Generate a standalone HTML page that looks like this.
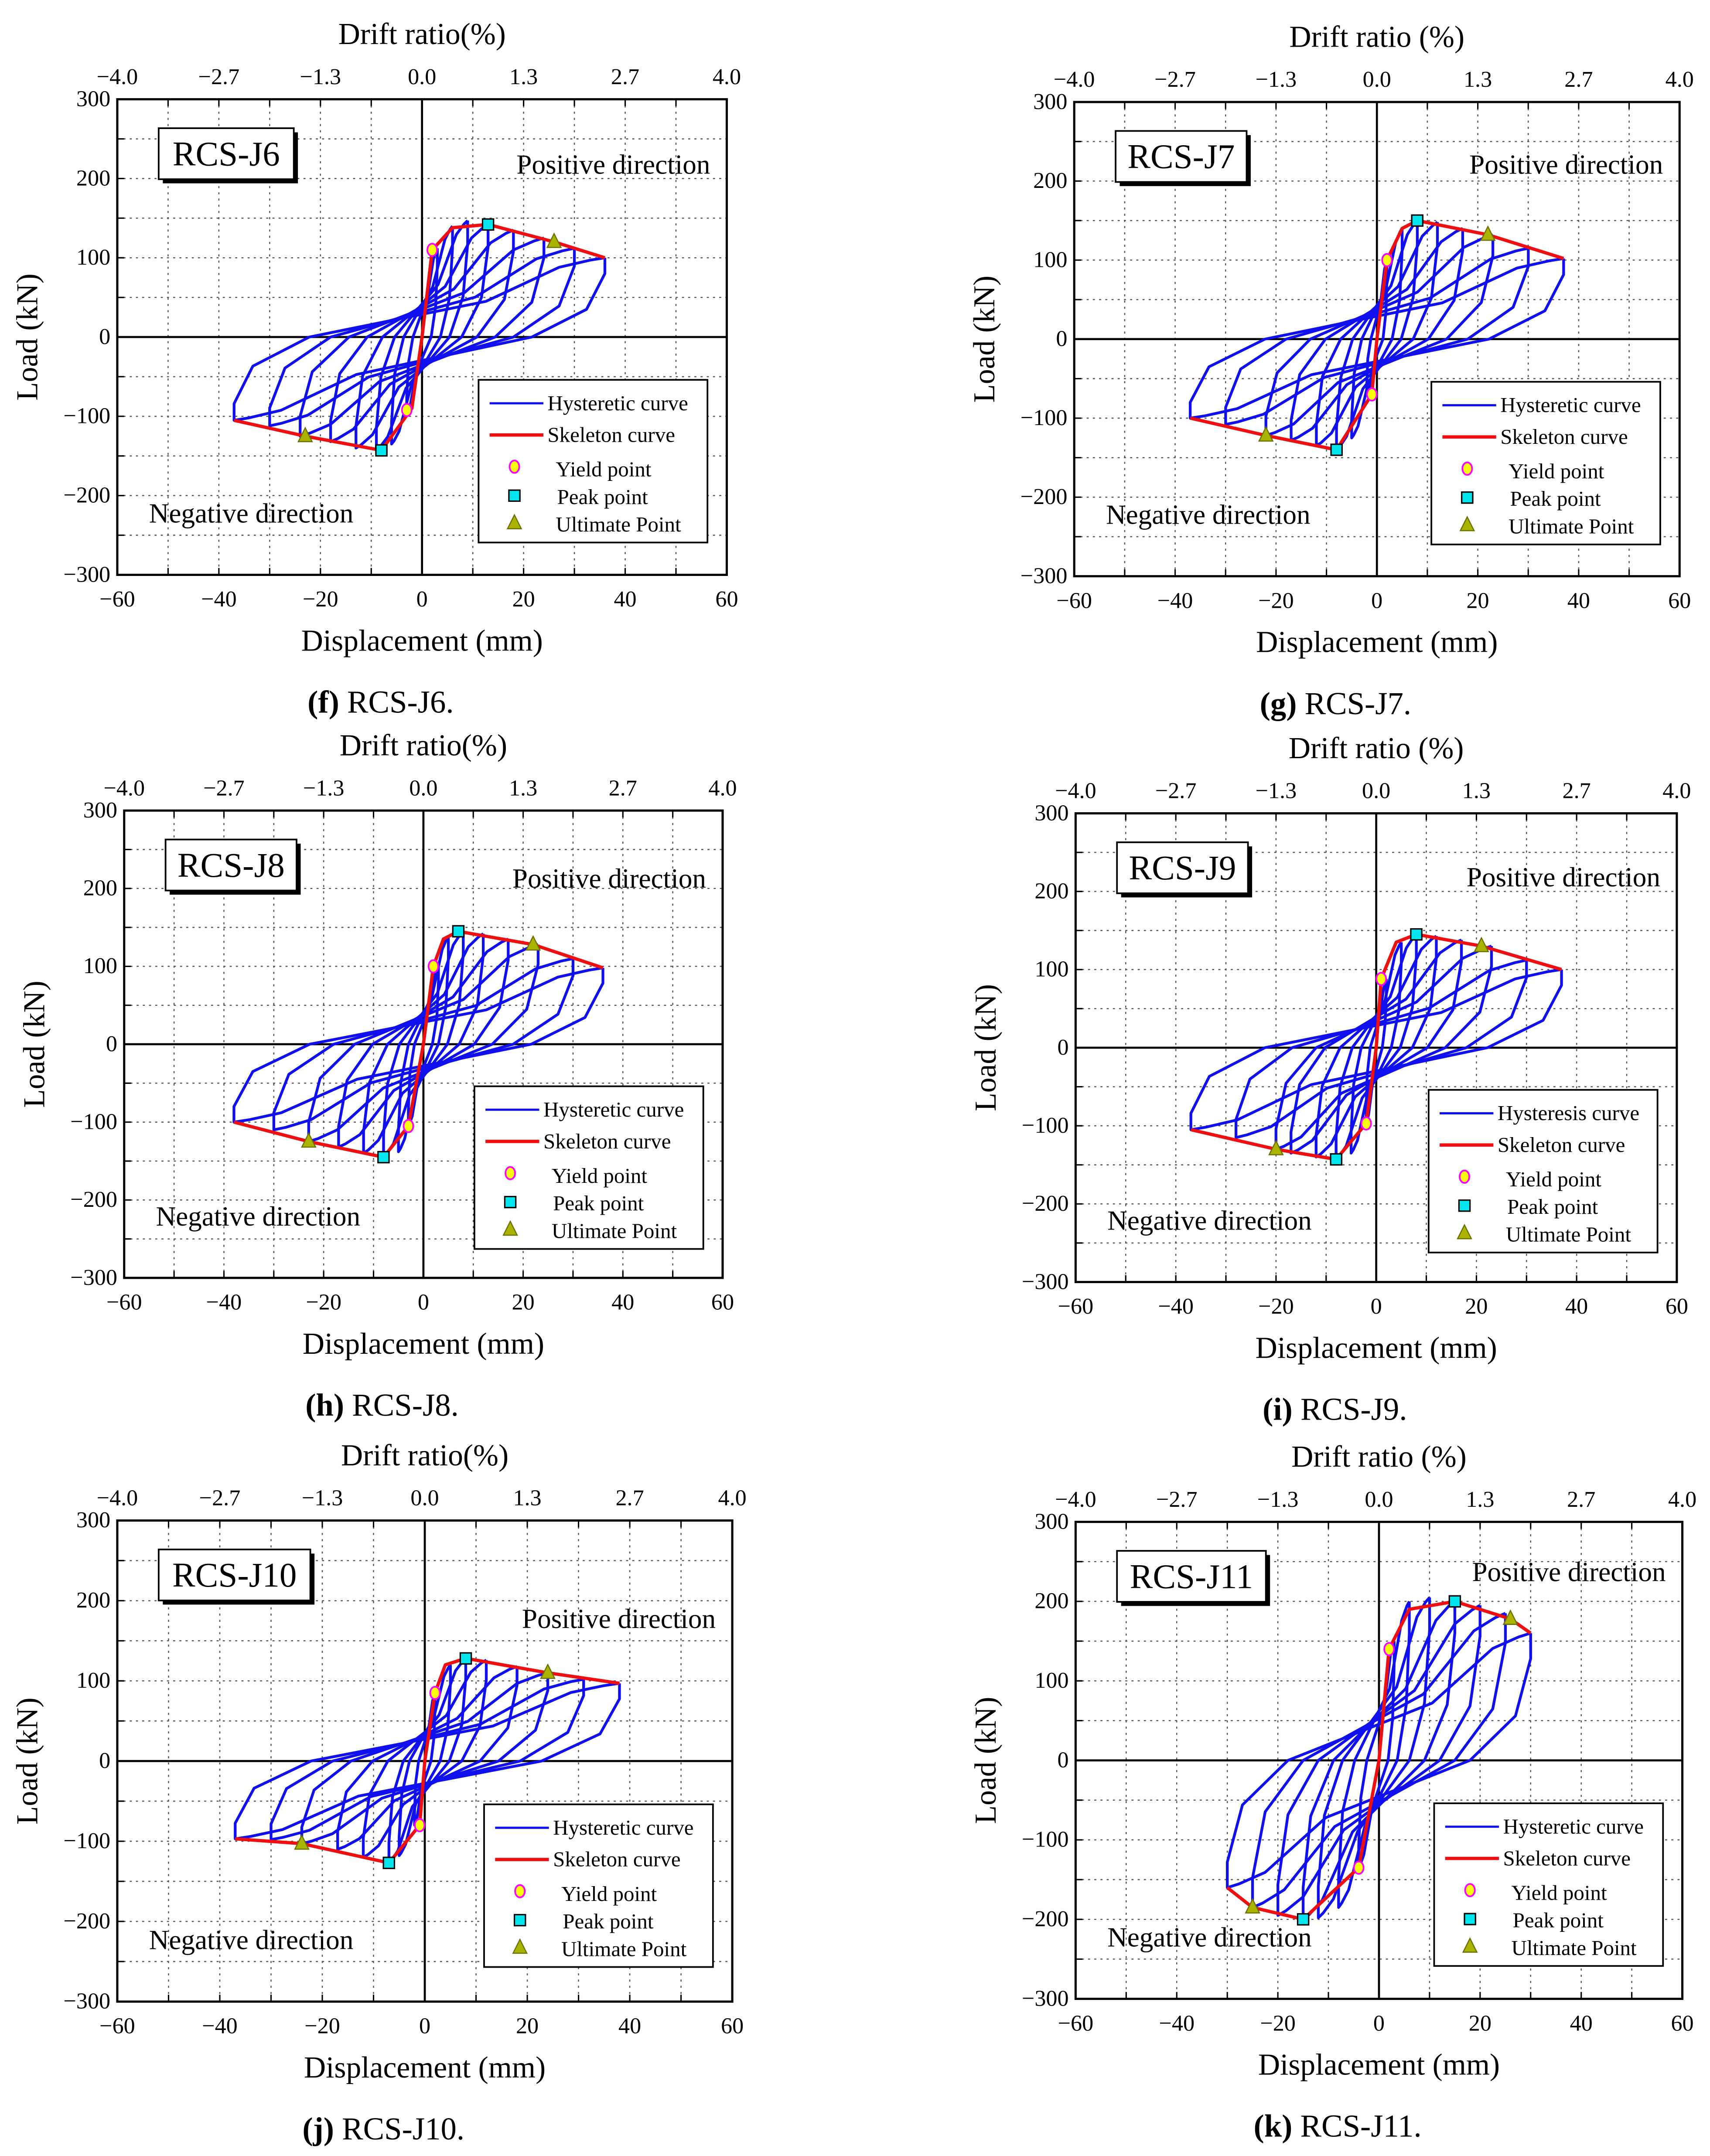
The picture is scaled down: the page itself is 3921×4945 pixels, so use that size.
<!DOCTYPE html>
<html><head><meta charset="utf-8"><style>
html,body{margin:0;padding:0;background:#fff}
svg{display:block}
text{font-family:"Liberation Serif",serif;fill:#000}
</style></head><body>
<svg id="fig" xmlns="http://www.w3.org/2000/svg" width="3921" height="4945" viewBox="0 0 1240 1564"></svg>
<script>
// ---- data (mm, kN) ----
const panelIds = ["f","g","h","i","j","k"];
const panelNames = ["RCS-J6","RCS-J7","RCS-J8","RCS-J9","RCS-J10","RCS-J11"];
const legendFirst = ["Hysteretic curve","Hysteretic curve","Hysteretic curve","Hysteresis curve","Hysteretic curve","Hysteretic curve"];
const xTicks = [-60,-40,-20,0,20,40,60];
const yTicks = [-300,-200,-100,0,100,200,300];
const driftTicks = ["\u22124.0","\u22122.7","\u22121.3","0.0","1.3","2.7","4.0"];
// cycle peaks
const posD = [[3,6,9,13,18,24,30,36],[2,5,8,12,17,23,30,37],[3,5,8,12,17,23,30,36],[2,5,8,12,17,23,30,37],[2,5,8,12,18,24,31,38],[3,6,10,15,20,25,30]];
const posF = [[112,140,147,142,135,125,112,100],[100,140,150,148,140,132,115,102],[100,138,145,142,135,128,110,98],[88,135,145,143,138,130,112,100],[85,120,128,126,118,110,102,97],[150,200,205,200,195,185,160]];
const negD = [[-3,-6,-9,-13,-18,-24,-30,-37],[-2,-5,-8,-12,-17,-22,-30,-37],[-3,-5,-8,-12,-17,-23,-30,-38],[-2,-5,-8,-12,-17,-20,-28,-37],[-2,-5,-7,-12,-17,-24,-30,-37],[-4,-8,-12,-15,-20,-25,-30]];
const negF = [[-95,-135,-143,-140,-132,-125,-112,-105],[-70,-125,-140,-135,-128,-122,-108,-100],[-105,-138,-145,-140,-132,-125,-110,-100],[-97,-135,-143,-140,-135,-130,-115,-105],[-80,-118,-127,-120,-110,-103,-98,-97],[-135,-185,-198,-200,-195,-185,-160]];
// skeleton curves
const skelD = [[-37,-23,-8,-2,0,2,6,13,26,36],[-37,-22,-8,-1,0,2,5,8,22,37],[-38,-23,-8,-3,0,2,4,7,22,36],[-37,-20,-8,-2,0,1,4,8,21,37],[-37,-24,-7,-1,0,2,4,8,24,38],[-30,-25,-15,-4,0,2,6,15,26,30]];
const skelF = [[-105,-125,-143,-90,0,110,138,142,120,100],[-100,-122,-140,-70,0,100,140,150,132,102],[-100,-125,-145,-105,0,100,135,145,128,98],[-105,-130,-143,-97,0,88,135,145,130,100],[-97,-103,-127,-80,0,85,120,128,110,97],[-160,-185,-200,-135,0,140,190,200,178,160]];
// markers [x,y] pos/neg
const yieldPts = [[[2,110],[-3,-92]],[[2,100],[-1,-70]],[[2,100],[-3,-105]],[[1,88],[-2,-97]],[[2,85],[-1,-80]],[[2,140],[-4,-135]]];
const peakPts = [[[13,142],[-8,-143]],[[8,150],[-8,-140]],[[7,145],[-8,-145]],[[8,145],[-8,-143]],[[8,128],[-7,-127]],[[15,200],[-15,-200]]];
const ultPts = [[[26,120],[-23,-125]],[[22,132],[-22,-122]],[[22,128],[-23,-125]],[[21,130],[-20,-130]],[[24,110],[-24,-103]],[[26,178],[-25,-185]]];

// ---- layout ----
const boxes = [[85,72,527,417],[779,74,1218,418],[90,588,524,927],[780,590,1216,930],[85,1103,531,1452],[780,1104,1220,1450]];
const labelW = [98,95,95,95,110,108];
const posDirDy = [48,46,50,47,72,37];

const NS="http://www.w3.org/2000/svg";
const svg=document.getElementById('fig');
function mk(tag,attrs,parent,txt){const e=document.createElementNS(NS,tag);for(const k in attrs)e.setAttribute(k,attrs[k]);if(txt!==undefined)e.textContent=txt;(parent||svg).appendChild(e);return e;}

panelIds.forEach((pid,p)=>{
  const [x0,y0,x1,y1]=boxes[p];
  const X=v=>x0+(v+60)/120*(x1-x0);
  const Y=v=>y0+(300-v)/600*(y1-y0);
  const g=mk('g',{});
  
  
  for(let v=-50;v<=50;v+=10){const l=mk('line',{x1:X(v),x2:X(v),y1:y0,y2:y1,stroke:'#555','stroke-width':0.8,'stroke-dasharray':'1.5,3'},g);}
  for(let v=-250;v<=250;v+=50){const l=mk('line',{y1:Y(v),y2:Y(v),x1:x0,x2:x1,stroke:'#555','stroke-width':0.8,'stroke-dasharray':'1.5,3'},g);}
  const zx=mk('line',{x1:X(0),x2:X(0),y1:y0,y2:y1,stroke:'#000','stroke-width':1.5},g);
  const zy=mk('line',{x1:x0,x2:x1,y1:Y(0),y2:Y(0),stroke:'#000','stroke-width':1.5},g);
  for(let v=-60;v<=60;v+=10){
    mk('line',{x1:X(v),x2:X(v),y1:y1,y2:y1-5,stroke:'#000','stroke-width':1},g);
    mk('line',{x1:X(v),x2:X(v),y1:y0,y2:y0+5,stroke:'#000','stroke-width':1},g);
  }
  for(let v=-300;v<=300;v+=50){mk('line',{x1:x0,x2:x0+5,y1:Y(v),y2:Y(v),stroke:'#000','stroke-width':1},g);}
  xTicks.forEach((v,i)=>{
    const t=mk('text',{x:X(v),y:y1+23,'text-anchor':'middle','font-size':16.5},g,(v<0?'\u2212'+(-v):''+v));
    
    const d=mk('text',{x:X(v),y:y0-11,'text-anchor':'middle','font-size':16.5},g,driftTicks[i]);
    
  });
  yTicks.forEach(v=>{
    const t=mk('text',{x:x0-5,y:Y(v)+5,'text-anchor':'end','font-size':16.5},g,(v<0?'\u2212'+(-v):''+v));
    
  });
  const dt=mk('text',{x:X(0),y:y0-40,'text-anchor':'middle','font-size':22},g,p%2===0?'Drift ratio(%)':'Drift ratio (%)');
  
  const xt=mk('text',{x:X(0),y:y1+55,'text-anchor':'middle','font-size':22},g,'Displacement (mm)');
  
  const yt=mk('text',{x:0,y:0,'text-anchor':'middle','font-size':22,transform:`translate(${x0-58},${(y0+y1)/2}) rotate(-90)`},g,'Load (kN)');
  
  const cap=mk('text',{x:X(0)-30,y:y1+100,'text-anchor':'middle','font-size':23},g);
  
  mk('tspan',{'font-weight':'bold'},cap,'('+pid+')');mk('tspan',{},cap,' '+panelNames[p]+'.');
  posD[p].forEach((dp,c)=>{
    const fp=posF[p][c],dn=negD[p][c],fn=negF[p][c];
    const pts=[[dp,fp],[dp*1.0,fp*0.8],[dp*0.9,fp*0.35],[dp*0.6,0],[dn*0.35,fn*0.45],[dn*0.75,fn*0.88],[dn*0.92,fn*0.97],[dn,fn],
               [dn,fn*0.8],[dn*0.9,fn*0.35],[dn*0.6,0],[dp*0.35,fp*0.45],[dp*0.75,fp*0.88],[dp*0.92,fp*0.97],[dp,fp]];
    const path=mk('path',{d:'M'+pts.map(q=>X(q[0]).toFixed(1)+','+Y(q[1]).toFixed(1)).join(' L'),fill:'none',stroke:'#1010ee','stroke-width':2,'stroke-linejoin':'round'},g);
    
  });
  const sk=mk('polyline',{points:skelD[p].map((d,i)=>X(d).toFixed(1)+','+Y(skelF[p][i]).toFixed(1)).join(' '),fill:'none',stroke:'#ee1010','stroke-width':2.4,'stroke-linejoin':'round'},g);
  
  yieldPts[p].forEach(q=>{const m=mk('ellipse',{cx:X(q[0]),cy:Y(q[1]),rx:3.5,ry:4.5,fill:'#ffff00',stroke:'#ff00ff','stroke-width':1.2},g);});
  peakPts[p].forEach(q=>{const m=mk('rect',{x:X(q[0])-4,y:Y(q[1])-4,width:8,height:8,fill:'#00e5ee',stroke:'#000','stroke-width':1},g);});
  ultPts[p].forEach(q=>{const cx=X(q[0]),cy=Y(q[1]);const m=mk('polygon',{points:`${cx},${cy-6} ${cx-5},${cy+4} ${cx+5},${cy+4}`,fill:'#aab400',stroke:'#6b7000','stroke-width':0.8},g);});
  const fr=mk('rect',{x:x0,y:y0,width:x1-x0,height:y1-y0,fill:'none',stroke:'#000','stroke-width':1.6},g);
  
  const lw=labelW[p];
  mk('rect',{x:x0+33,y:y0+24,width:lw,height:37,fill:'#000'},g);
  const lb=mk('rect',{x:x0+30,y:y0+21,width:lw,height:37,fill:'#fff',stroke:'#000','stroke-width':1.2},g);
  
  const lt=mk('text',{x:x0+30+lw/2,y:y0+48,'text-anchor':'middle','font-size':25},g,panelNames[p]);
  
  const pd=mk('text',{x:x1-12,y:y0+posDirDy[p]+6,'text-anchor':'end','font-size':20},g,'Positive direction');
  
  const nd=mk('text',{x:x0+23,y:y1-38,'font-size':20},g,'Negative direction');
  
  const lx=x1-180,ly=y0+(y1-y0)*0.59,lg=mk('g',{},g);
  
  mk('rect',{x:lx,y:ly,width:166,height:118,fill:'#fff',stroke:'#000','stroke-width':1.2},lg);
  mk('line',{x1:lx+8,x2:lx+47,y1:ly+17,y2:ly+17,stroke:'#1010ee','stroke-width':1.6},lg);
  mk('text',{x:lx+50,y:ly+22,'font-size':15.5},lg,legendFirst[p]);
  mk('line',{x1:lx+8,x2:lx+47,y1:ly+40,y2:ly+40,stroke:'#ee1010','stroke-width':2.4},lg);
  mk('text',{x:lx+50,y:ly+45,'font-size':15.5},lg,'Skeleton curve');
  mk('ellipse',{cx:lx+26,cy:ly+63,rx:3.5,ry:4.5,fill:'#ffff00',stroke:'#ff00ff','stroke-width':1.2},lg);
  mk('text',{x:lx+56,y:ly+70,'font-size':15.5},lg,'Yield point');
  mk('rect',{x:lx+22,y:ly+80,width:8,height:8,fill:'#00e5ee',stroke:'#000','stroke-width':1},lg);
  mk('text',{x:lx+57,y:ly+90,'font-size':15.5},lg,'Peak point');
  mk('polygon',{points:`${lx+26},${ly+98} ${lx+21},${ly+108} ${lx+31},${ly+108}`,fill:'#aab400',stroke:'#6b7000','stroke-width':0.8},lg);
  mk('text',{x:lx+56,y:ly+110,'font-size':15.5},lg,'Ultimate Point');
});
</script>
</body></html>
